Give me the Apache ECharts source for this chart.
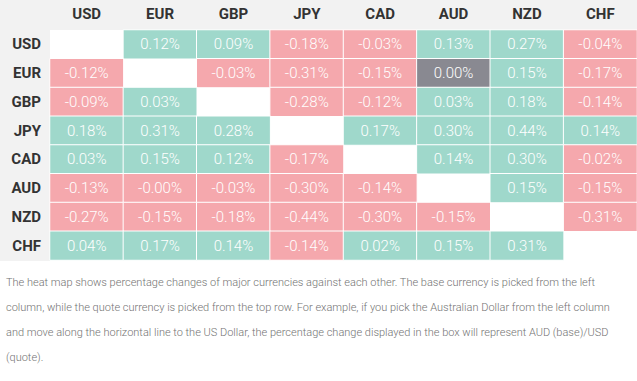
<!DOCTYPE html>
<html>
<head>
<meta charset="utf-8">
<script src="https://cdn.jsdelivr.net/npm/echarts@6/dist/echarts.min.js"></script>
<style>html,body{margin:0;padding:0;background:#fff;}#c{width:637px;height:381px;}</style>
</head>
<body>
<div id="c"></div>
<script>
// Quote currencies (top row) and base currencies (left column)
const quoteCurrencies = ['USD','EUR','GBP','JPY','CAD','AUD','NZD','CHF'];
const baseCurrencies  = ['USD','EUR','GBP','JPY','CAD','AUD','NZD','CHF'];
// Percentage changes, one row per base currency; null = diagonal (empty)
const rowUSD = [null, 0.12, 0.09, -0.18, -0.03, 0.13, 0.27, -0.04];
const rowEUR = [-0.12, null, -0.03, -0.31, -0.15, 0.00, 0.15, -0.17];
const rowGBP = [-0.09, 0.03, null, -0.28, -0.12, 0.03, 0.18, -0.14];
const rowJPY = [0.18, 0.31, 0.28, null, 0.17, 0.30, 0.44, 0.14];
const rowCAD = [0.03, 0.15, 0.12, -0.17, null, 0.14, 0.30, -0.02];
const rowAUD = [-0.13, -0.004, -0.03, -0.30, -0.14, null, 0.15, -0.15];
const rowNZD = [-0.27, -0.15, -0.18, -0.44, -0.30, -0.15, null, -0.31];
const rowCHF = [0.04, 0.17, 0.14, -0.14, 0.02, 0.15, 0.31, null];
const rows = [rowUSD,rowEUR,rowGBP,rowJPY,rowCAD,rowAUD,rowNZD,rowCHF];
const note = [
  'The heat map shows percentage changes of major currencies against each other. The base currency is picked from the left',
  'column, while the quote currency is picked from the top row. For example, if you pick the Australian Dollar from the left column',
  'and move along the horizontal line to the US Dollar, the percentage change displayed in the box will represent AUD (base)/USD',
  '(quote).'
];

const data = [];
rows.forEach((r, yi) => r.forEach((v, xi) => { if (v !== null) data.push([xi, yi, v]); }));

const chart = echarts.init(document.getElementById('c'), null, {renderer:'svg'});
chart.setOption({
  animation: false,
  backgroundColor: '#fff',
  graphic: [
    {type:'rect', z:-10, shape:{x:0,y:0,width:637,height:30}, style:{fill:'#f2f2f2'}},
    {type:'rect', z:-10, shape:{x:0,y:0,width:50,height:261}, style:{fill:'#f2f2f2'}},
    {type:'text', left:6, top:270, style:{text: note.join('\n'), fill:'#737373', font:'300 11px Roboto', lineHeight:25}}
  ],
  grid: {left:50, right:0, top:30, height:230},
  xAxis: {
    type:'category', data: quoteCurrencies, position:'top',
    axisLine:{show:false}, axisTick:{show:false}, splitLine:{show:false},
    axisLabel:{color:'#333', fontFamily:'Roboto', fontWeight:'bold', fontSize:15, margin:9}
  },
  yAxis: {
    type:'category', data: baseCurrencies, inverse:true,
    axisLine:{show:false}, axisTick:{show:false}, splitLine:{show:false},
    axisLabel:{color:'#333', fontFamily:'Roboto', fontWeight:'bold', fontSize:15, margin:9}
  },
  visualMap: {
    show:false, type:'piecewise', dimension:2,
    pieces:[
      {lt:0, color:'#f5a8ad'},
      {value:0, color:'#898991'},
      {gt:0, color:'#9fd8cb'}
    ]
  },
  series: [{
    type:'heatmap', data,
    itemStyle:{borderColor:'#fff', borderWidth:1},
    label:{show:true, color:'#fff', fontFamily:'Roboto', fontWeight:300, fontSize:15,
      formatter: p => p.value[2].toFixed(2) + '%'},
    emphasis:{disabled:true}
  }]
});
</script>
</body>
</html>
